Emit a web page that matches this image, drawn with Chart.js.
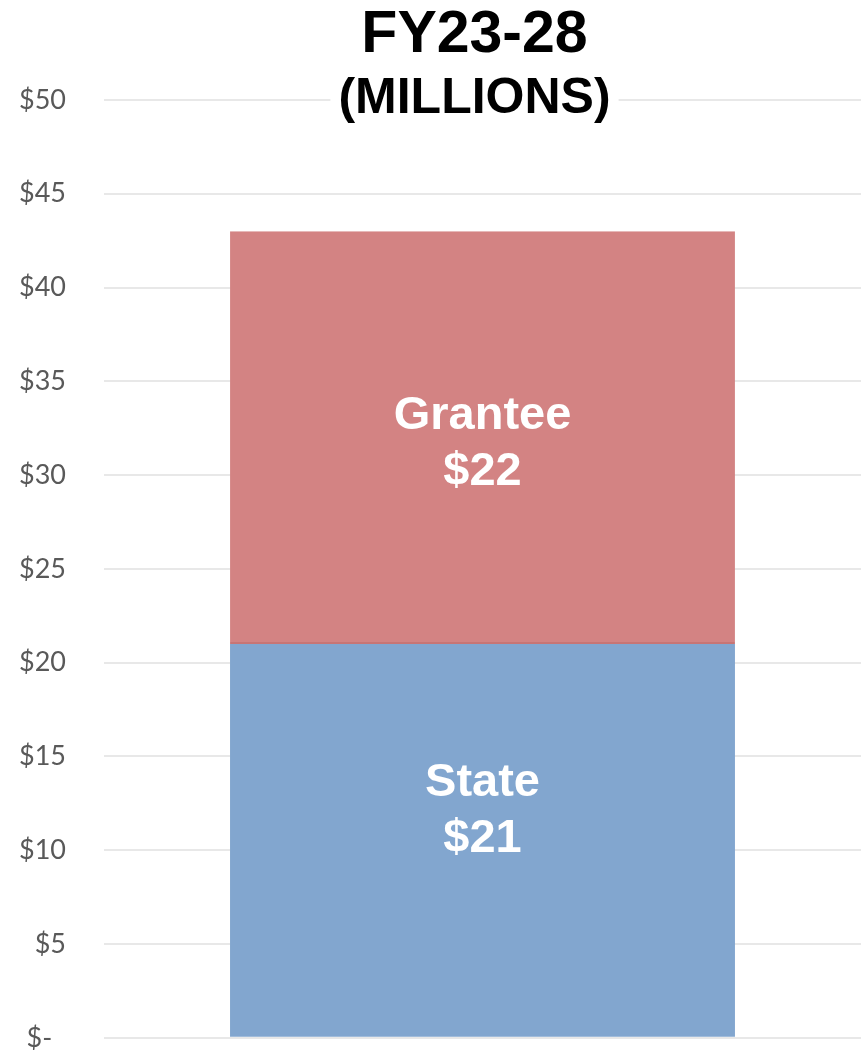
<!DOCTYPE html>
<html><head><meta charset="utf-8">
<script src="https://cdn.jsdelivr.net/npm/chart.js@4.4.0/dist/chart.umd.min.js"></script>
<style>html,body{margin:0;padding:0;background:#fff}</style>
</head><body>
<canvas id="c" width="864" height="1050"></canvas>
<script>
const categories = ['FY23-28'];
const seriesNames = ['State', 'Grantee'];
const stateValues = [21];
const granteeValues = [22];
const tickValues = [0, 5, 10, 15, 20, 25, 30, 35, 40, 45, 50];
const titleLines = ['FY23-28', '(MILLIONS)'];

const labelPlugin = {
  id: 'labels',
  afterDraw(chart) {
    const ctx = chart.ctx;
    const ca = chart.chartArea;
    ctx.save();
    // title
    const cx = (ca.left + ca.right) / 2 - 8;
    ctx.fillStyle = '#000';
    ctx.textAlign = 'center';
    ctx.textBaseline = 'alphabetic';
    ctx.font = 'bold 59px "Liberation Sans", Arial, sans-serif';
    ctx.fillText(titleLines[0], cx, 52);
    ctx.font = 'bold 50px "Liberation Sans", Arial, sans-serif';
    const w = ctx.measureText(titleLines[1]).width;
    ctx.fillStyle = '#fff';
    ctx.fillRect(cx - w / 2 - 8, 70, w + 16, 54);
    ctx.fillStyle = '#000';
    ctx.fillText(titleLines[1], cx, 113);
    // data labels
    ctx.fillStyle = '#fff';
    ctx.font = 'bold 47px "Liberation Sans", Arial, sans-serif';
    const offsets = [-35, 0];
    chart.data.datasets.forEach((ds, di) => {
      const meta = chart.getDatasetMeta(di);
      meta.data.forEach((el, i) => {
        const yc = (el.y + el.base) / 2 + offsets[di];
        ctx.fillText(ds.label, el.x, yc - 9);
        ctx.fillText('$' + ds.data[i], el.x, yc + 47);
      });
    });
    ctx.restore();
  }
};

new Chart(document.getElementById('c'), {
  type: 'bar',
  data: {
    labels: categories,
    datasets: [
      { label: seriesNames[0], data: stateValues, backgroundColor: '#82A6CF', barPercentage: 0.667, categoryPercentage: 1, inflateAmount: 0 },
      { label: seriesNames[1], data: granteeValues, backgroundColor: '#D38383', borderColor: '#C77575', borderWidth: { bottom: 2, top: 0, left: 0, right: 0 }, borderSkipped: false, barPercentage: 0.667, categoryPercentage: 1, inflateAmount: 0 }
    ]
  },
  options: {
    responsive: false,
    animation: false,
    layout: { padding: { top: 100, right: 3, bottom: 12, left: 0 } },
    plugins: { legend: { display: false }, title: { display: false }, tooltip: { enabled: false } },
    scales: {
      x: { stacked: true, display: false },
      y: {
        stacked: true,
        min: 0, max: 50,
        z: 1,
        afterBuildTicks(s) { s.ticks = tickValues.map(v => ({ value: v })); },
        afterFit(s) { s.width = 104; },
        border: { display: false },
        grid: { color: 'rgba(0,0,0,0.09)', lineWidth: 2, drawTicks: true, tickLength: 42, tickColor: 'rgba(0,0,0,0)' },
        ticks: {
          padding: -4,
          color: '#595959',
          font: { family: 'Lato', size: 27 },
          callback: v => v === 0 ? '$-  ' : '$' + v
        }
      }
    }
  },
  plugins: [labelPlugin]
});
</script>
</body></html>
